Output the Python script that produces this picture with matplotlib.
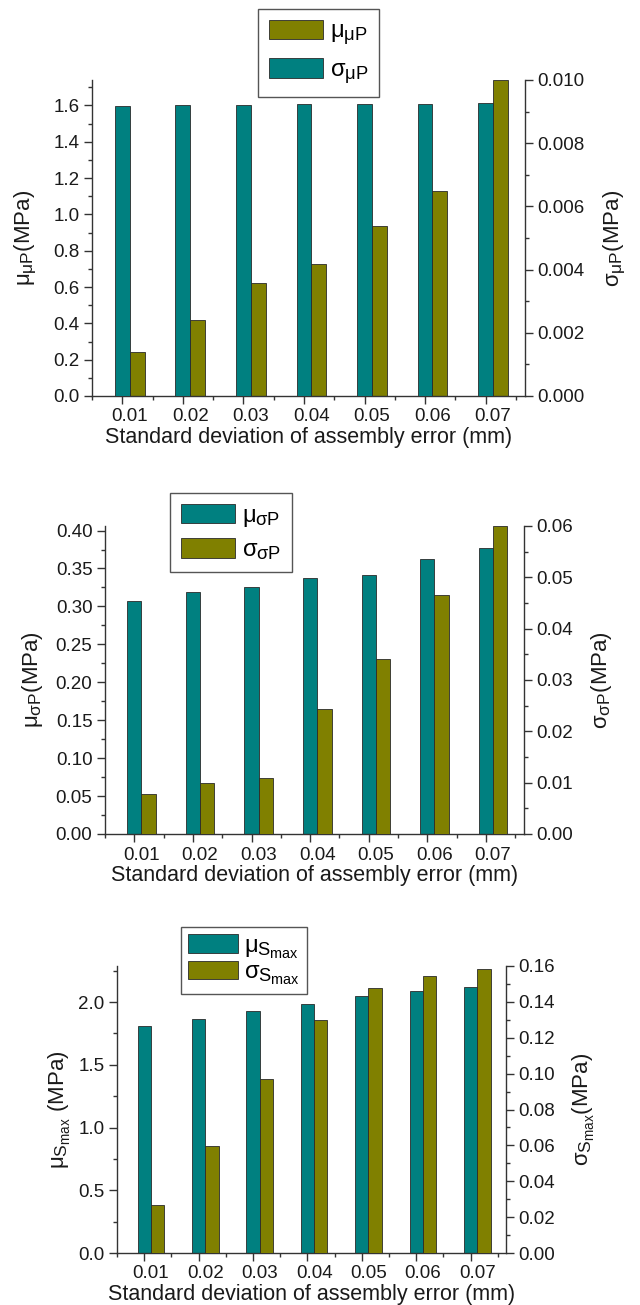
import numpy as np
import matplotlib
matplotlib.use("Agg")
import matplotlib.pyplot as plt
from matplotlib.patches import Patch
from matplotlib.ticker import MultipleLocator, FormatStrFormatter, FixedLocator
from matplotlib.transforms import ScaledTranslation

try:
    import matplotlib._mathtext as _mt
    _mt.SHRINK_FACTOR = 0.78
except Exception:
    pass

plt.rcParams['font.family'] = ['Liberation Sans', 'DejaVu Sans']
plt.rcParams['mathtext.fontset'] = 'custom'
plt.rcParams['mathtext.rm'] = 'Liberation Sans'
plt.rcParams['mathtext.it'] = 'Liberation Sans'
plt.rcParams['mathtext.bf'] = 'Liberation Sans:bold'
plt.rcParams['mathtext.sf'] = 'Liberation Sans'

# ---------------- data ----------------
categories = ['0.01', '0.02', '0.03', '0.04', '0.05', '0.06', '0.07']

# panel 1: mean contact pressure (left axis) and its std (right axis)
mu_muP = [0.243, 0.416, 0.623, 0.729, 0.937, 1.127, 1.74]
sigma_muP = [0.00919, 0.00921, 0.00922, 0.00923, 0.00925, 0.00924, 0.00926]

# panel 2
mu_sigmaP = [0.307, 0.319, 0.326, 0.337, 0.342, 0.363, 0.377]
sigma_sigmaP = [0.0077, 0.0099, 0.0110, 0.0243, 0.0340, 0.0466, 0.0600]

# panel 3
mu_Smax = [1.806, 1.867, 1.928, 1.984, 2.051, 2.090, 2.117]
sigma_Smax = [0.0270, 0.0597, 0.0969, 0.1300, 0.1475, 0.1542, 0.1583]

TEAL = '#008080'
OLIVE = '#808000'
EDGE = '#2a2a2a'
SPINE = '#333333'
W = 0.245

fig = plt.figure(figsize=(6.4, 13.05), dpi=100)
FW, FH = 640.0, 1305.0


def rect(l, t, r, b):
    return [l / FW, 1 - b / FH, (r - l) / FW, (b - t) / FH]


def style_axis(ax, is_twin):
    ax.spines['top'].set_visible(False)
    for s in ax.spines.values():
        s.set_color(SPINE)
        s.set_linewidth(1.0)
    if is_twin:
        ax.spines['left'].set_visible(False)
        ax.spines['bottom'].set_visible(False)
    else:
        ax.spines['right'].set_visible(False)
    ax.tick_params(axis='both', which='major', direction='out', length=6,
                   width=1.0, color=SPINE, labelsize=13.5, pad=3,
                   labelcolor='#1a1a1a')
    ax.tick_params(axis='both', which='minor', direction='out', length=3,
                   width=1.0, color=SPINE)


def panel(box, left_vals, right_vals, left_color, right_color, left_is_teal,
          ylim_l, ylim_r, maj_l, min_l, maj_r, min_r, fmt_l, fmt_r,
          ylab_l, ylab_r, pads, legend_items, legend_xy, legend_kw):
    ax = fig.add_axes(rect(*box))
    ax2 = ax.twinx()
    x = np.arange(1, len(categories) + 1)
    # teal bar always on the left of each pair, olive on the right
    if left_is_teal:
        ax.bar(x, left_vals, W, color=left_color, edgecolor=EDGE, linewidth=0.6)
        ax2.bar(x + W, right_vals, W, color=right_color, edgecolor=EDGE, linewidth=0.6)
    else:
        ax.bar(x + W, left_vals, W, color=left_color, edgecolor=EDGE, linewidth=0.6)
        ax2.bar(x, right_vals, W, color=right_color, edgecolor=EDGE, linewidth=0.6)
    ax.set_xlim(0.5, 7.65)
    ax.set_ylim(*ylim_l)
    ax2.set_ylim(*ylim_r)
    ax.set_xticks(x)
    ax.set_xticklabels(categories)
    ax.xaxis.set_minor_locator(FixedLocator(np.arange(0.5, 8.0, 1.0)))
    ax.yaxis.set_major_locator(MultipleLocator(maj_l))
    ax.yaxis.set_minor_locator(MultipleLocator(min_l))
    ax.yaxis.set_major_formatter(FormatStrFormatter(fmt_l))
    ax2.yaxis.set_major_locator(MultipleLocator(maj_r))
    ax2.yaxis.set_minor_locator(MultipleLocator(min_r))
    ax2.yaxis.set_major_formatter(FormatStrFormatter(fmt_r))
    style_axis(ax, False)
    style_axis(ax2, True)
    # tick labels centred under each pair of bars
    px_per_unit = (box[2] - box[0]) / (7.65 - 0.5)
    dx = (W / 2) * px_per_unit / 100.0
    off = ScaledTranslation(dx, 0, fig.dpi_scale_trans)
    for lab in ax.get_xticklabels():
        lab.set_transform(lab.get_transform() + off)
    ax.set_xlabel('Standard deviation of assembly error (mm)', fontsize=15.5,
                  labelpad=1, color='#1a1a1a')
    ax.set_ylabel(ylab_l, fontsize=16, color='#1a1a1a', labelpad=pads[0])
    ax2.set_ylabel(ylab_r, fontsize=16, color='#1a1a1a', labelpad=pads[1])
    handles = [Patch(facecolor=c, edgecolor=EDGE, linewidth=0.6) for c, _ in legend_items]
    labels = [l for _, l in legend_items]
    leg = fig.legend(handles, labels, loc='upper left',
                     bbox_to_anchor=(legend_xy[0] / FW, 1 - legend_xy[1] / FH),
                     frameon=True, fancybox=False, framealpha=1,
                     edgecolor='#555555', borderaxespad=0,
                     **legend_kw)
    leg.get_frame().set_linewidth(1.0)
    return ax, ax2


# panel 1
panel((92, 80, 525, 396), mu_muP, sigma_muP, OLIVE, TEAL, False,
      (0, 1.74), (0, 0.010), 0.2, 0.1, 0.002, 0.001, '%.1f', '%.3f',
      r'$\mu_{\mu P}$(MPa)', r'$\sigma_{\mu P}$(MPa)', (11, 12),
      [(OLIVE, r'$\mu_{\mu P}$'), (TEAL, r'$\sigma_{\mu P}$')],
      (258, 9), dict(fontsize=17, handlelength=2.3, handleheight=0.9,
                     labelspacing=0.45, handletextpad=0.3, borderpad=0.45))

# panel 2
panel((105, 526, 524, 834), mu_sigmaP, sigma_sigmaP, TEAL, OLIVE, True,
      (0, 0.406), (0, 0.06), 0.05, 0.025, 0.01, 0.005, '%.2f', '%.2f',
      r'$\mu_{\sigma P}$(MPa)', r'$\sigma_{\sigma P}$(MPa)', (8, 11),
      [(TEAL, r'$\mu_{\sigma P}$'), (OLIVE, r'$\sigma_{\sigma P}$')],
      (170, 493), dict(fontsize=17, handlelength=2.3, handleheight=0.9,
                       labelspacing=0.4, handletextpad=0.3, borderpad=0.45))

# panel 3
panel((117, 966, 506, 1253), mu_Smax, sigma_Smax, TEAL, OLIVE, True,
      (0, 2.287), (0, 0.16), 0.5, 0.25, 0.02, 0.01, '%.1f', '%.2f',
      r'$\mu_{S_{max}}$ (MPa)', r'$\sigma_{S_{max}}$(MPa)', (4, 11),
      [(TEAL, r'$\mu_{S_{max}}$'), (OLIVE, r'$\sigma_{S_{max}}$')],
      (181, 927), dict(fontsize=17, handlelength=2.1, handleheight=0.85,
                       labelspacing=0.0, handletextpad=0.25, borderpad=0.3))

fig.savefig('out.png', dpi=100)
